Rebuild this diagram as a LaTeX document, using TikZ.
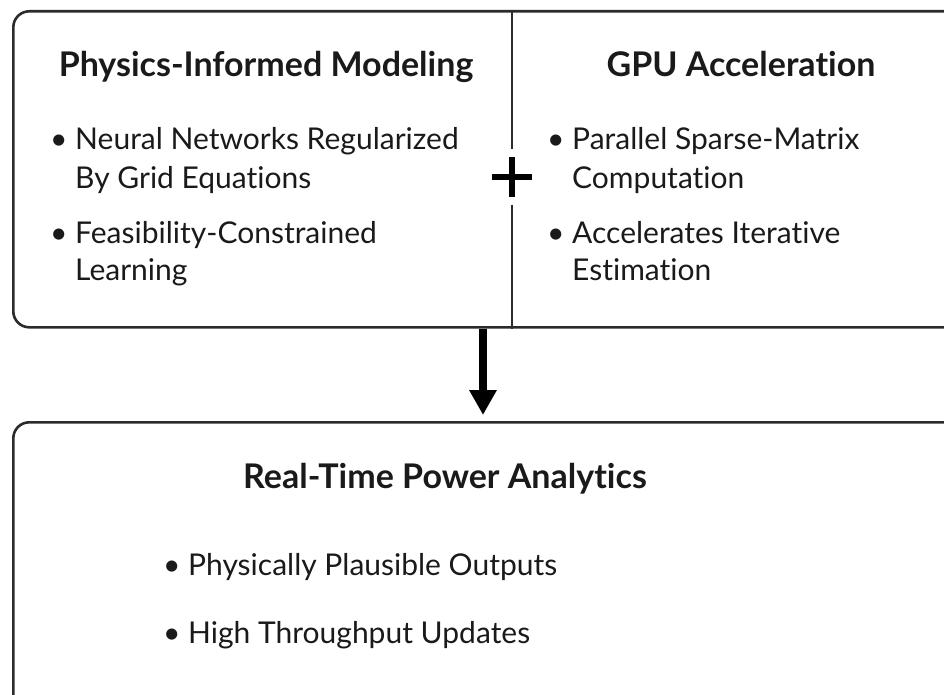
\documentclass[tikz,border=0pt]{standalone}
\usepackage{fontspec}
\setmainfont{Lato}[Ligatures={NoCommon}]
\usetikzlibrary{arrows.meta}
\definecolor{edgegray}{HTML}{2B2B2B}
\definecolor{inkblack}{HTML}{1A1A1A}
\begin{document}
\begin{tikzpicture}[x=1pt,y=-1pt,
  panel/.style={draw=edgegray,line width=2.6pt,rounded corners=16pt,anchor=north west},
  heading/.style={anchor=base,inner sep=0pt,text=inkblack,font=\bfseries\fontsize{34}{40}\selectfont},
  bulletdot/.style={anchor=base west,inner sep=0pt,text=inkblack,font=\fontsize{30}{36}\selectfont},
  itemline/.style={anchor=base west,inner sep=0pt,text=inkblack,font=\fontsize{30}{36}\selectfont},
  divider/.style={draw=edgegray,line width=2pt},
  plusarm/.style={draw=black,line width=6pt},
  flowarrow/.style={draw=black,line width=8pt,-{Triangle[width=26pt,length=25pt]}}]
\useasboundingbox (0,0) rectangle (944,695);
\clip (0,0) rectangle (944,695);
% panels
\node[panel,minimum width=968pt,minimum height=316pt] (toppanel) at (12,10) {};
\node[panel,minimum width=968pt,minimum height=300pt] (bottompanel) at (12,421) {};
% divider and plus
\node[inner sep=0pt,minimum width=56pt,minimum height=55pt] (plus) at (512,177) {};
\draw[divider] (toppanel.north -| plus) -- (plus.north);
\draw[divider] (plus.south) -- (toppanel.south -| plus);
\draw[plusarm] (plus.center) ++(-20,0) -- ++(40,0);
\draw[plusarm] (plus.center) ++(0,-20) -- ++(0,40);
% left column
\node[heading] (physhead) at (266,77) {Physics-Informed Modeling};
\node[bulletdot] (lb1) at (50,150) {\textbullet};
\node[itemline] (neural) at (75,150) {Neural Networks Regularized};
\node[itemline] (grideq) at (75,188) {By Grid Equations};
\node[bulletdot] (lb2) at (50,243) {\textbullet};
\node[itemline] (feasib) at (75,243) {Feasibility-Constrained};
\node[itemline] (learn) at (75,280) {Learning};
% right column
\node[heading] (gpuhead) at (741,77) {GPU Acceleration};
\node[bulletdot] (rb1) at (547,150) {\textbullet};
\node[itemline] (sparse) at (572,150) {Parallel Sparse-Matrix};
\node[itemline] (compute) at (572,188) {Computation};
\node[bulletdot] (rb2) at (547,243) {\textbullet};
\node[itemline] (iter) at (572,243) {Accelerates Iterative};
\node[itemline] (estim) at (572,280) {Estimation};
% bottom panel
\node[heading] (powerhead) at (445,488) {Real-Time Power Analytics};
\node[bulletdot] (bb1) at (163,575) {\textbullet};
\node[itemline] (plaus) at (188,575) {Physically Plausible Outputs};
\node[bulletdot] (bb2) at (163,643) {\textbullet};
\node[itemline] (thru) at (188,643) {High Throughput Updates};
% arrow
\coordinate (arrowx) at (483,0);
\draw[flowarrow,shorten >=6pt] (toppanel.south -| arrowx) -- (bottompanel.north -| arrowx);
\end{tikzpicture}
\end{document}
